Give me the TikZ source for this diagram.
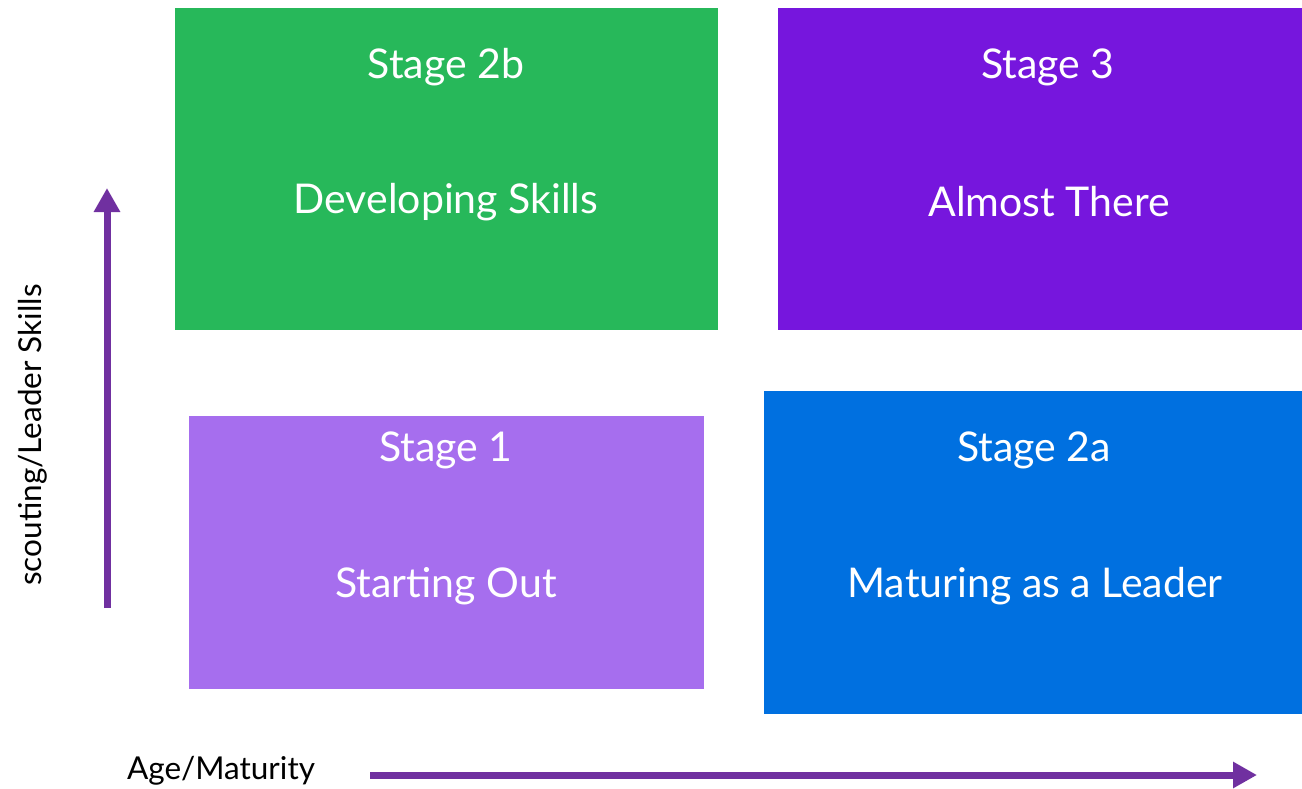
\documentclass[tikz,border=0pt]{standalone}
\usepackage{fontspec}
\setmainfont{Lato}
\usetikzlibrary{arrows.meta}
\definecolor{stageGreen}{HTML}{27B85A}
\definecolor{stageViolet}{HTML}{7616DD}
\definecolor{stageLilac}{HTML}{A66EEE}
\definecolor{stageBlue}{HTML}{0070E0}
\definecolor{axisPurple}{HTML}{7030A0}
\begin{document}
\begin{tikzpicture}[x=1pt,y=-1pt,
  stagetext/.style={text=white,font=\fontsize{41}{47}\selectfont,inner sep=0pt},
  axislabel/.style={text=black,font=\fontsize{31.5}{36}\selectfont,inner sep=0pt},
  axisarrow/.style={draw=axisPurple,line width=7pt,-{Triangle[length=24pt,width=25pt]}}]
\useasboundingbox (0,0) rectangle (1302,788);
% quadrant boxes
\fill[stageGreen]  (175,8)   rectangle (718,330);
\fill[stageViolet] (778,8)   rectangle (1302,330);
\fill[stageLilac]  (189,416) rectangle (704,689);
\fill[stageBlue]   (764,391) rectangle (1302,714);
% box captions
\node[stagetext] (s2b)  at (446,67)  {Stage 2b};
\node[stagetext] (d2b)  at (446,202) {Developing Skills};
\node[stagetext] (s3)   at (1048,67) {Stage 3};
\node[stagetext] (d3)   at (1049,202){Almost There};
\node[stagetext] (s1)   at (446,450) {Stage 1};
\node[stagetext] (d1)   at (446,586) {Starting Out};
\node[stagetext] (s2a)  at (1034,450){Stage 2a};
\node[stagetext] (d2a)  at (1035,586){Maturing as a Leader};
% axes
\coordinate (ybase) at (107,608);
\coordinate (ytip)  at (107,188);
\coordinate (xbase) at (370,775);
\coordinate (xtip)  at (1257,775);
\draw[axisarrow] (ybase) -- (ytip);
\draw[axisarrow] (xbase) -- (xtip);
\node[axislabel,rotate=90] (ylab) at (33,435) {scouting/Leader Skills};
\node[axislabel] (xlab) at (221,771) {Age/Maturity};
\end{tikzpicture}
\end{document}
